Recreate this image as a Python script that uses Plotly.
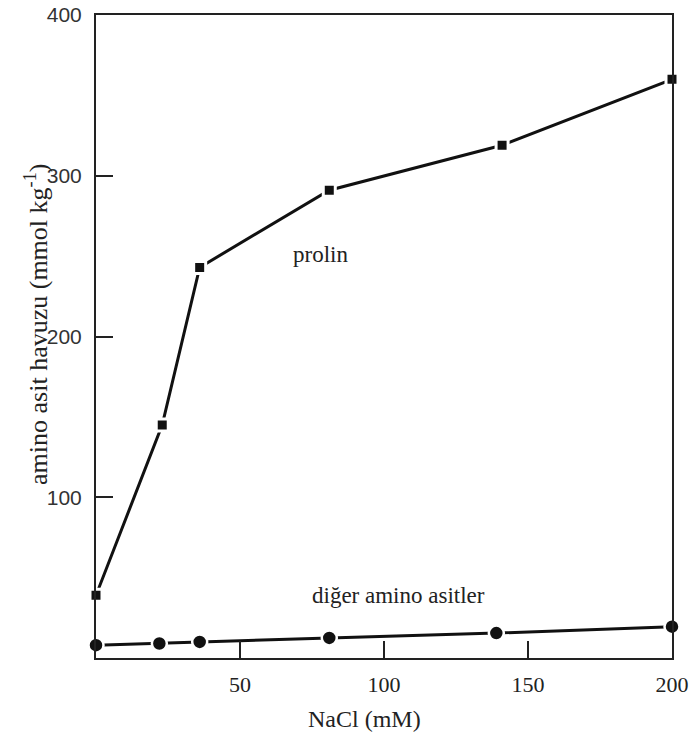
import plotly.graph_objects as go

# NaCl concentration (mM)
prolin_x = [0, 23, 36, 81, 141, 200]
prolin_y = [39, 145, 243, 291, 319, 360]

diger_x = [0, 22, 36, 81, 139, 200]
diger_y = [8, 9, 10, 12.5, 15.5, 19.5]

x_ticks = [50, 100, 150, 200]
y_ticks = [100, 200, 300, 400]

serif = "Liberation Serif, Times New Roman, serif"
sans = "Liberation Sans, Arial, sans-serif"

fig = go.Figure()
fig.add_trace(go.Scatter(
    x=prolin_x, y=prolin_y, mode="lines+markers",
    line=dict(color="#111111", width=3),
    marker=dict(symbol="square", size=12, color="#111111",
                line=dict(color="white", width=3)),
    cliponaxis=False, showlegend=False))
fig.add_trace(go.Scatter(
    x=diger_x, y=diger_y, mode="lines+markers",
    line=dict(color="#111111", width=3),
    marker=dict(symbol="circle", size=15, color="#111111",
                line=dict(color="white", width=2.5)),
    cliponaxis=False, showlegend=False))

fig.update_layout(
    width=694, height=740,
    margin=dict(l=96, r=22, t=15, b=82, autoexpand=False),
    plot_bgcolor="white", paper_bgcolor="white",
    xaxis=dict(range=[0, 200], tickvals=x_ticks, ticktext=[str(v) for v in x_ticks],
               ticks="inside", ticklen=17, tickwidth=2, tickcolor="#222",
               showline=True, linecolor="#222", linewidth=2, mirror=True,
               showgrid=False, zeroline=False, ticklabelstandoff=6, automargin=False,
               tickfont=dict(family=serif, size=22, color="#222")),
    yaxis=dict(range=[0, 400], tickvals=y_ticks, ticktext=[str(v) for v in y_ticks],
               ticks="inside", ticklen=17, tickwidth=2, tickcolor="#222",
               showline=True, linecolor="#222", linewidth=2, mirror=True,
               showgrid=False, zeroline=False, ticklabelstandoff=8, automargin=False,
               tickfont=dict(family=sans, size=21, color="#333")),
    annotations=[
        dict(x=78, y=251, xref="x", yref="y", text="prolin", showarrow=False,
             font=dict(family=serif, size=23, color="#222")),
        dict(x=105, y=39, xref="x", yref="y", text="diğer amino asitler", showarrow=False,
             font=dict(family=serif, size=23, color="#222")),
        dict(x=0.467, y=0, xref="paper", yref="paper", yshift=-61, text="NaCl (mM)",
             showarrow=False, yanchor="middle",
             font=dict(family=serif, size=24, color="#222")),
        dict(x=-0.1024, y=0.518, xref="paper", yref="paper", textangle=-90,
             text="amino asit havuzu (mmol kg<sup>-1</sup>)", showarrow=False,
             xanchor="center", yanchor="middle",
             font=dict(family=serif, size=26, color="#222")),
    ],
)

fig.write_html("out.html", config={"displayModeBar": False},
               post_script="document.body.style.margin='0';document.body.style.overflow='hidden';")
